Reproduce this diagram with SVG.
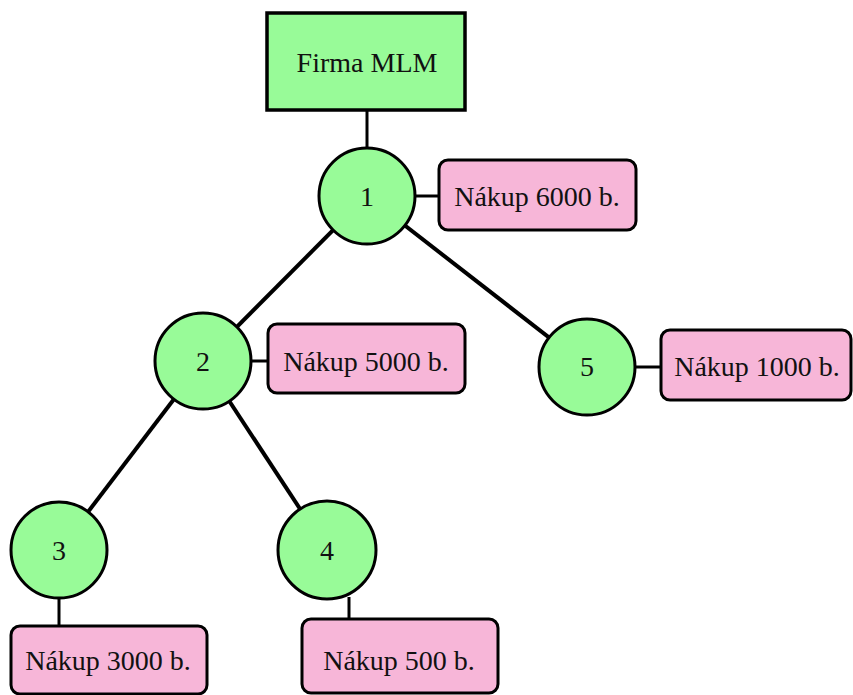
<svg xmlns="http://www.w3.org/2000/svg" width="853" height="695" viewBox="0 0 853 695">
  <style>
    .edge { stroke: #000; stroke-width: 4; fill: none; }
    .link { stroke: #000; stroke-width: 3; fill: none; }
    .member { fill: #98fb98; stroke: #000; stroke-width: 3; }
    .firm { fill: #98fb98; stroke: #000; stroke-width: 3.5; }
    .buy { fill: #f7b6d8; stroke: #000; stroke-width: 3; }
    text { font-family: "Liberation Serif", "Times New Roman", serif; font-size: 28px; fill: #111; text-anchor: middle; }
  </style>
  <rect width="853" height="695" fill="#fff"/>

  <!-- connectors -->
  <g id="connectors">
    <line class="link" x1="367" y1="110" x2="367" y2="150"/>
    <line class="edge" x1="367" y1="196" x2="203" y2="361"/>
    <line class="edge" x1="367" y1="196" x2="587" y2="367"/>
    <line class="edge" x1="203" y1="361" x2="59" y2="550"/>
    <line class="edge" x1="203" y1="361" x2="327" y2="550"/>
    <line class="link" x1="414" y1="196" x2="440" y2="196"/>
    <line class="link" x1="250" y1="361" x2="270" y2="361"/>
    <line class="link" x1="635" y1="367" x2="662" y2="367"/>
    <line class="link" x1="59" y1="597" x2="59" y2="627"/>
    <line class="link" x1="349" y1="597" x2="349" y2="620"/>
  </g>

  <g id="firma">
    <rect class="firm" x="267" y="13" width="198" height="97"/>
    <text x="367" y="72">Firma MLM</text>
  </g>

  <g id="member1">
    <circle class="member" cx="367" cy="196" r="48"/>
    <text x="367" y="206">1</text>
  </g>
  <g id="purchase1">
    <rect class="buy" x="439" y="160" width="197" height="70" rx="9"/>
    <text x="537" y="206">Nákup 6000 b.</text>
  </g>

  <g id="member2">
    <circle class="member" cx="203" cy="361" r="48"/>
    <text x="203" y="371">2</text>
  </g>
  <g id="purchase2">
    <rect class="buy" x="268" y="324" width="197" height="69" rx="9"/>
    <text x="366" y="371">Nákup 5000 b.</text>
  </g>

  <g id="member5">
    <circle class="member" cx="587" cy="367" r="48"/>
    <text x="587" y="376">5</text>
  </g>
  <g id="purchase5">
    <rect class="buy" x="661" y="330" width="190" height="70" rx="9"/>
    <text x="757" y="376">Nákup 1000 b.</text>
  </g>

  <g id="member3">
    <circle class="member" cx="59" cy="550" r="48"/>
    <text x="59" y="560">3</text>
  </g>
  <g id="purchase3">
    <rect class="buy" x="11" y="626" width="196" height="68" rx="9"/>
    <text x="108" y="670">Nákup 3000 b.</text>
  </g>

  <g id="member4">
    <circle class="member" cx="327" cy="550" r="49"/>
    <text x="327" y="560">4</text>
  </g>
  <g id="purchase4">
    <rect class="buy" x="302" y="619" width="196" height="74" rx="9"/>
    <text x="399" y="670">Nákup 500 b.</text>
  </g>
</svg>
